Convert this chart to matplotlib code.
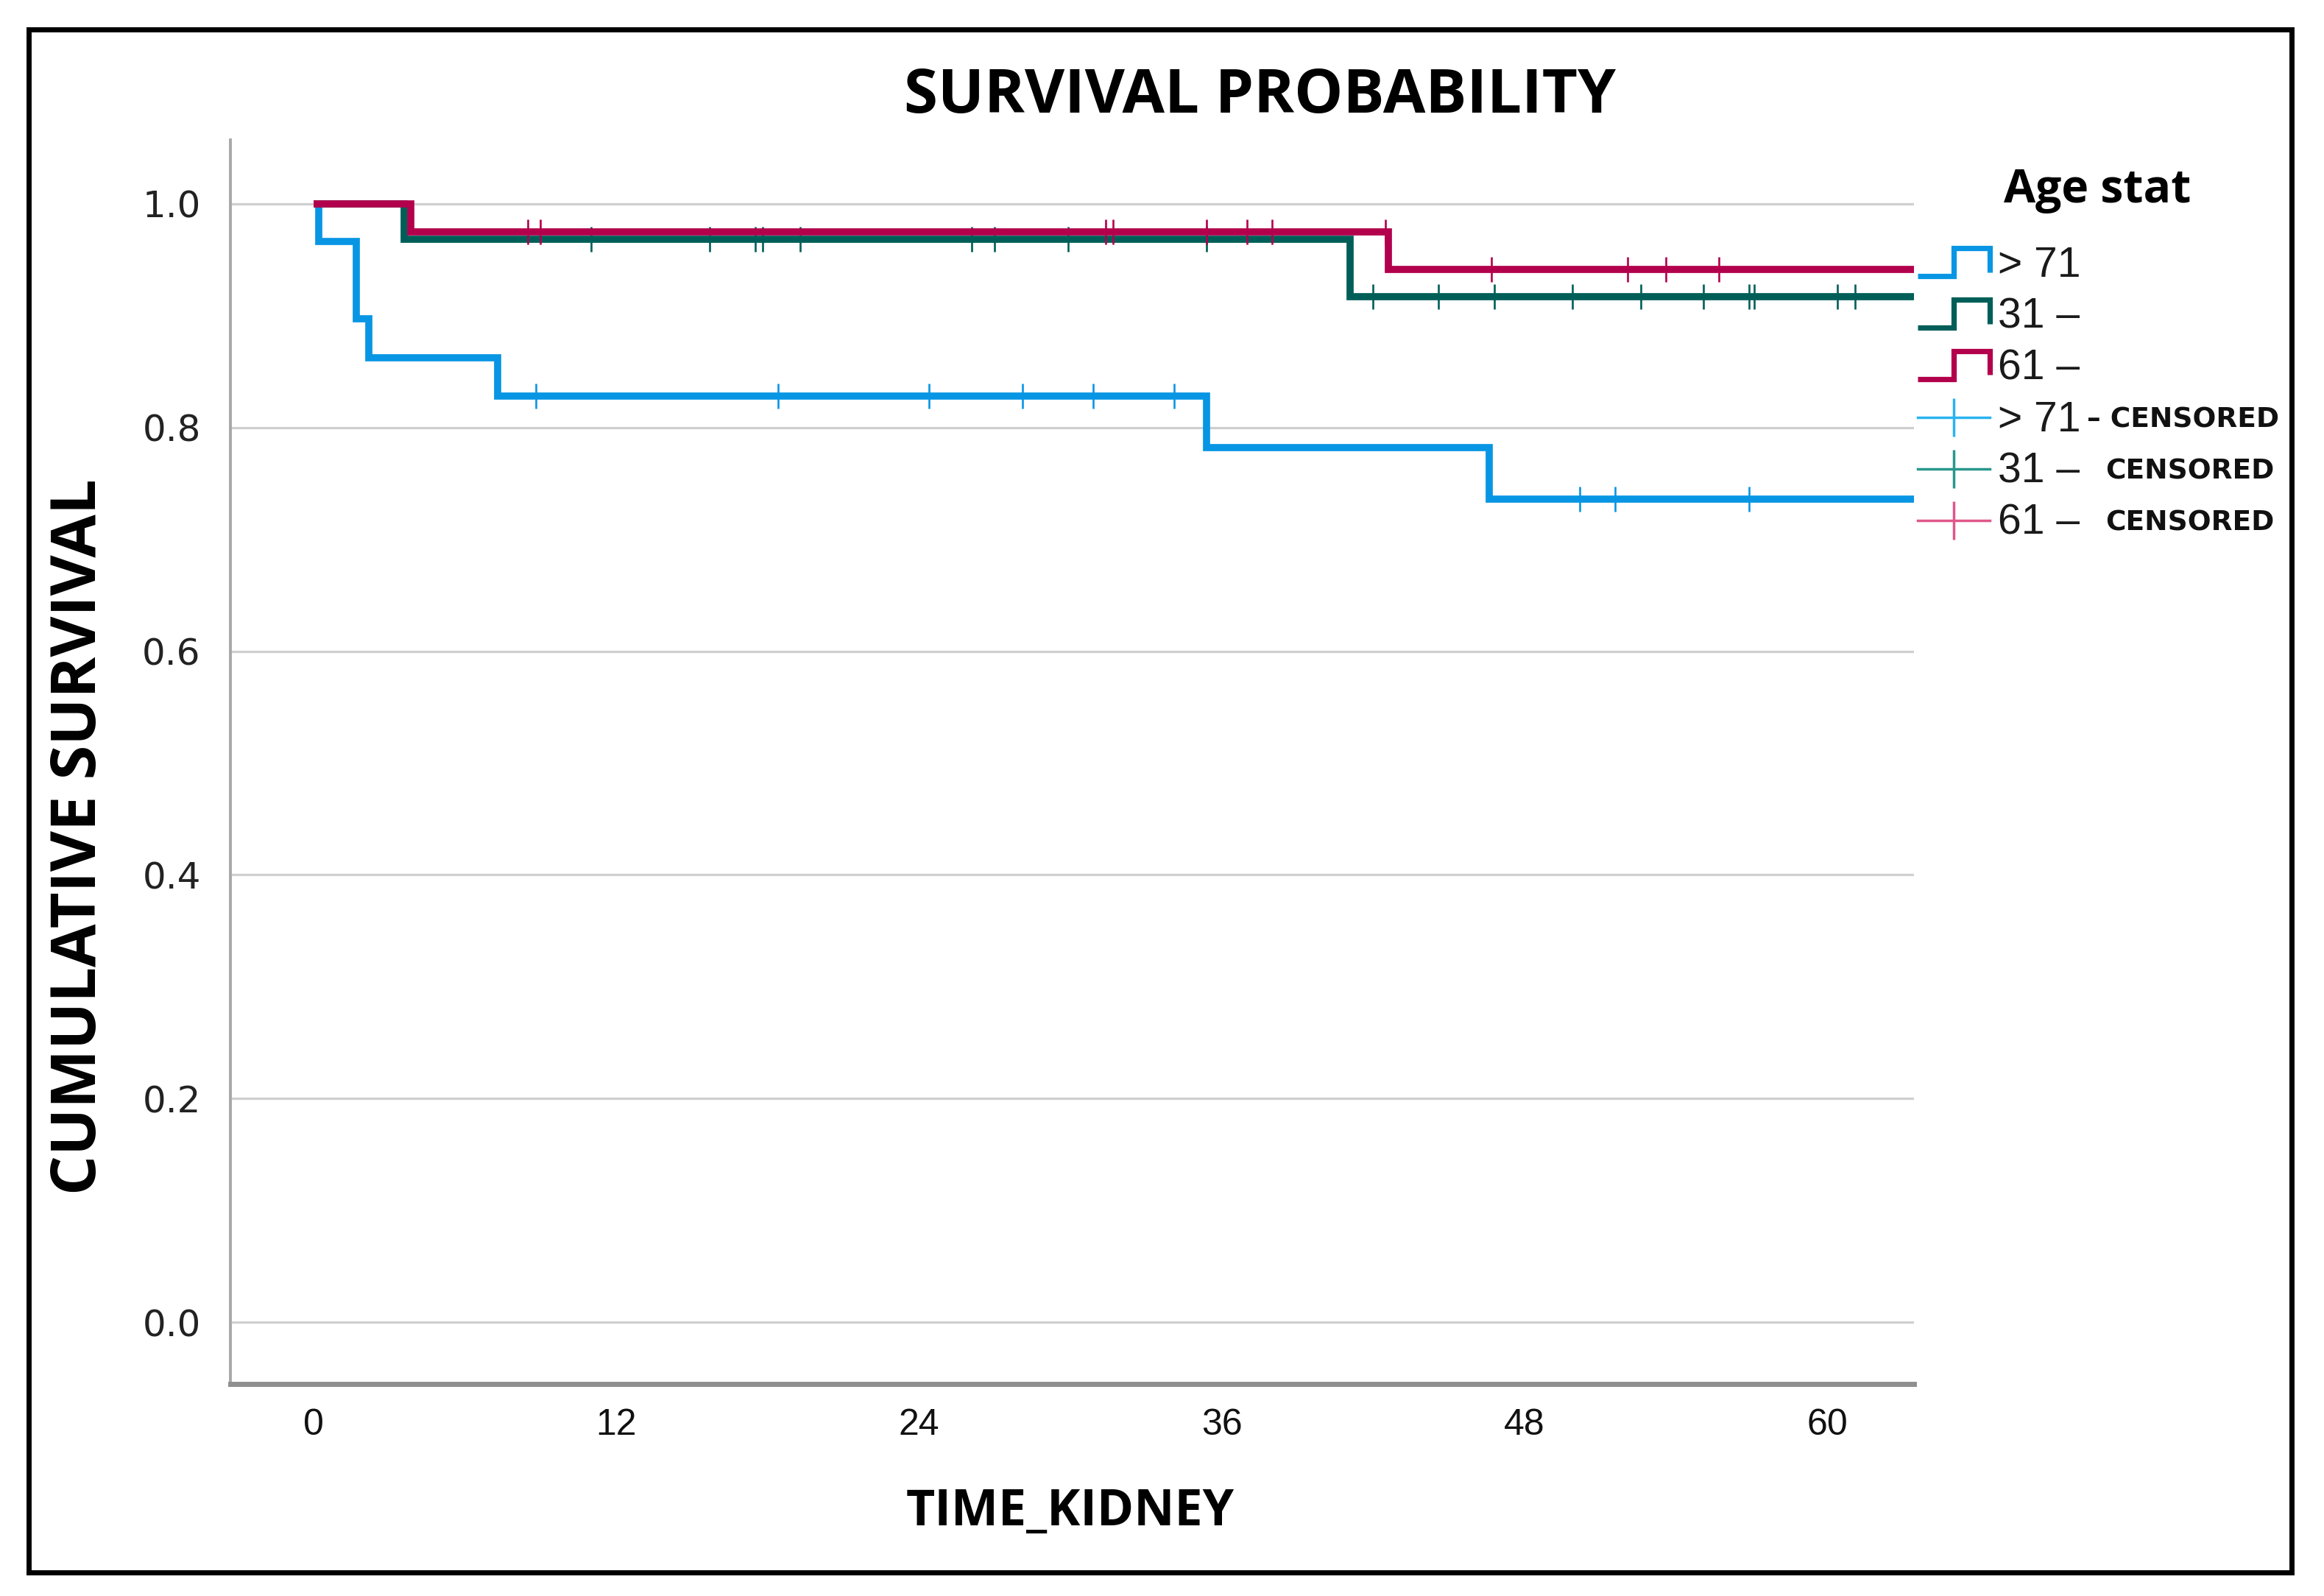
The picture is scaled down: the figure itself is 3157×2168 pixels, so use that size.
import matplotlib
matplotlib.use("Agg")
import matplotlib.pyplot as plt
from matplotlib.lines import Line2D
from matplotlib.legend_handler import HandlerBase
from matplotlib.patches import Rectangle
import numpy as np

# ---------------- data ----------------
groups = ["> 71", "31 –", "61 –"]
colors = ["#0896E4", "#005E58", "#B3004C"]
censor_colors = ["#2BB3F0", "#2A968C", "#E0578A"]

# Kaplan-Meier step points (time in months, cumulative survival)
gt71_times = [0.0, 0.2, 1.7, 2.2, 7.3, 35.4, 46.6]
gt71_surv = [1.0, 0.966, 0.897, 0.862, 0.828, 0.782, 0.736]
gt71_cens = [8.8, 18.4, 24.4, 28.1, 30.9, 34.1, 50.2, 51.6, 56.9]

g31_times = [0.0, 3.6, 41.1]
g31_surv = [1.0, 0.968, 0.917]
g31_cens = [11.0, 15.7, 17.5, 17.8, 19.3, 26.1, 27.0, 29.9, 35.4,
            42.0, 44.6, 46.8, 49.9, 52.6, 55.1, 56.9, 57.1, 60.4, 61.1]

g61_times = [0.0, 3.85, 42.6]
g61_surv = [1.0, 0.975, 0.941]
g61_cens = [8.5, 9.0, 31.4, 31.7, 35.4, 37.0, 38.0, 42.5, 46.7,
            52.1, 53.6, 55.7]

x_ticks = [0, 12, 24, 36, 48, 60]
y_ticks = [0.0, 0.2, 0.4, 0.6, 0.8, 1.0]
y_ticklabels = ["0.0", "0.2", "0.4", "0.6", "0.8", "1.0"]

# ---------------- figure ----------------
W, H = 3157, 2168
DPI = 100
fig = plt.figure(figsize=(W / DPI, H / DPI), dpi=DPI)
fig.patch.set_facecolor("white")

NARROW = ["Liberation Sans Narrow", "Liberation Sans", "DejaVu Sans"]
BOLD = ["Open Sans", "DejaVu Sans"]

ax = fig.add_axes([313 / W, 1 - 1880 / H, (2600 - 313) / W, (1880 - 190) / H])
XMIN, XMAX = -3.3, 63.44
YMIN, YMAX = -0.055, 1.057
ax.set_xlim(XMIN, XMAX)
ax.set_ylim(YMIN, YMAX)

series = [
    (gt71_times, gt71_surv, gt71_cens),
    (g31_times, g31_surv, g31_cens),
    (g61_times, g61_surv, g61_cens),
]
for i, (t, s, c) in enumerate(series):
    t = np.asarray(t); s = np.asarray(s); c = np.asarray(c)
    xs = np.r_[t, XMAX + 1]
    ys = np.r_[s, s[-1]]
    ax.plot(xs, ys, drawstyle="steps-post", color=colors[i], lw=7,
            solid_joinstyle="miter", solid_capstyle="butt", zorder=3 + i)
    idx = np.searchsorted(t, c, side="right") - 1
    ax.plot(c, s[idx], ls="none", marker="|", ms=25, mew=1.9,
            color=colors[i], zorder=3 + i)

ax.set_xticks(x_ticks)
ax.set_yticks(y_ticks)
ax.set_yticklabels(y_ticklabels)
ax.tick_params(axis="y", length=0, pad=29, labelsize=36, labelcolor="#222222")
ax.tick_params(axis="x", length=0, pad=24, labelsize=36, labelcolor="#111111")
for lab in ax.get_xticklabels():
    lab.set_fontfamily(NARROW)

ax.yaxis.grid(True, color="#cfcfcf", lw=2.3)
ax.xaxis.grid(False)
ax.set_axisbelow(True)
for sp in ["top", "right"]:
    ax.spines[sp].set_visible(False)
ax.spines["left"].set_color("#a8a8a8")
ax.spines["left"].set_linewidth(2.8)
ax.spines["bottom"].set_color("#8f8f8f")
ax.spines["bottom"].set_linewidth(5)

# ---------------- texts ----------------
fig.text(1712 / W, 1 - 153 / H, "SURVIVAL PROBABILITY", family=BOLD,
         weight="bold", size=60, ha="center", va="baseline")
fig.text(1454 / W, 1 - 2072 / H, "TIME_KIDNEY", family=BOLD,
         weight="bold", size=49, ha="center", va="baseline")
fig.text(108 / W, 1 - 1137 / H, "CUMULATIVE SURVIVAL", family=BOLD,
         weight="bold", size=61, ha="center", va="center", rotation=90)
fig.text(2722 / W, 1 - 275 / H, "Age stat", family=BOLD,
         weight="bold", size=45, ha="left", va="baseline")


# ---------------- legend ----------------
class StepProxy(Line2D):
    pass


class StepHandler(HandlerBase):
    def create_artists(self, legend, orig_handle, xdescent, ydescent,
                       width, height, fontsize, trans):
        x0 = -xdescent
        y0 = -ydescent
        lo = y0 - 0.05 * height
        hi = y0 + 1.05 * height
        xm = x0 + 0.5 * width
        xs = [x0, xm, xm, x0 + width, x0 + width]
        ys = [lo, lo, hi, hi, lo + 0.15 * height]
        ln = Line2D(xs, ys, color=orig_handle.get_color(), lw=5.2,
                    solid_joinstyle="miter", solid_capstyle="butt")
        ln.set_transform(trans)
        return [ln]


handles = [StepProxy([], [], color=c) for c in colors]
handles += [Line2D([], [], color=c, lw=2.5, marker="|", ms=37, mew=2.5)
            for c in censor_colors]
labels = groups + groups

leg = fig.legend(handles, labels, loc="upper left",
                 bbox_to_anchor=(2605 / W, 1 - 334 / H),
                 frameon=False, borderpad=0, borderaxespad=0,
                 handlelength=1.72, handleheight=0.55, handletextpad=0.2,
                 labelspacing=0.28, numpoints=1,
                 handler_map={StepProxy: StepHandler()},
                 prop={"family": NARROW, "size": 41})
for t in leg.get_texts():
    t.set_color("#1a1a1a")

fig.canvas.draw()
renderer = fig.canvas.get_renderer()
cens_texts = ["– CENSORED", "CENSORED", "CENSORED"]
gaps = [8, 35, 35]
for t, s, g in zip(leg.get_texts()[3:], cens_texts, gaps):
    bb = t.get_window_extent(renderer)
    fig.text((bb.x1 + g) / W, (bb.y0 + bb.y1) / 2 / H, s,
             family=["DejaVu Sans"], weight="bold", size=27,
             ha="left", va="center", color="#111111")

# ---------------- frame ----------------
fig.add_artist(Rectangle((39 / W, 1 - 2136 / H), (3113 - 39) / W,
                         (2136 - 40) / H, fill=False, lw=5, ec="black",
                         transform=fig.transFigure))

fig.savefig("out.png", dpi=DPI, facecolor="white")
